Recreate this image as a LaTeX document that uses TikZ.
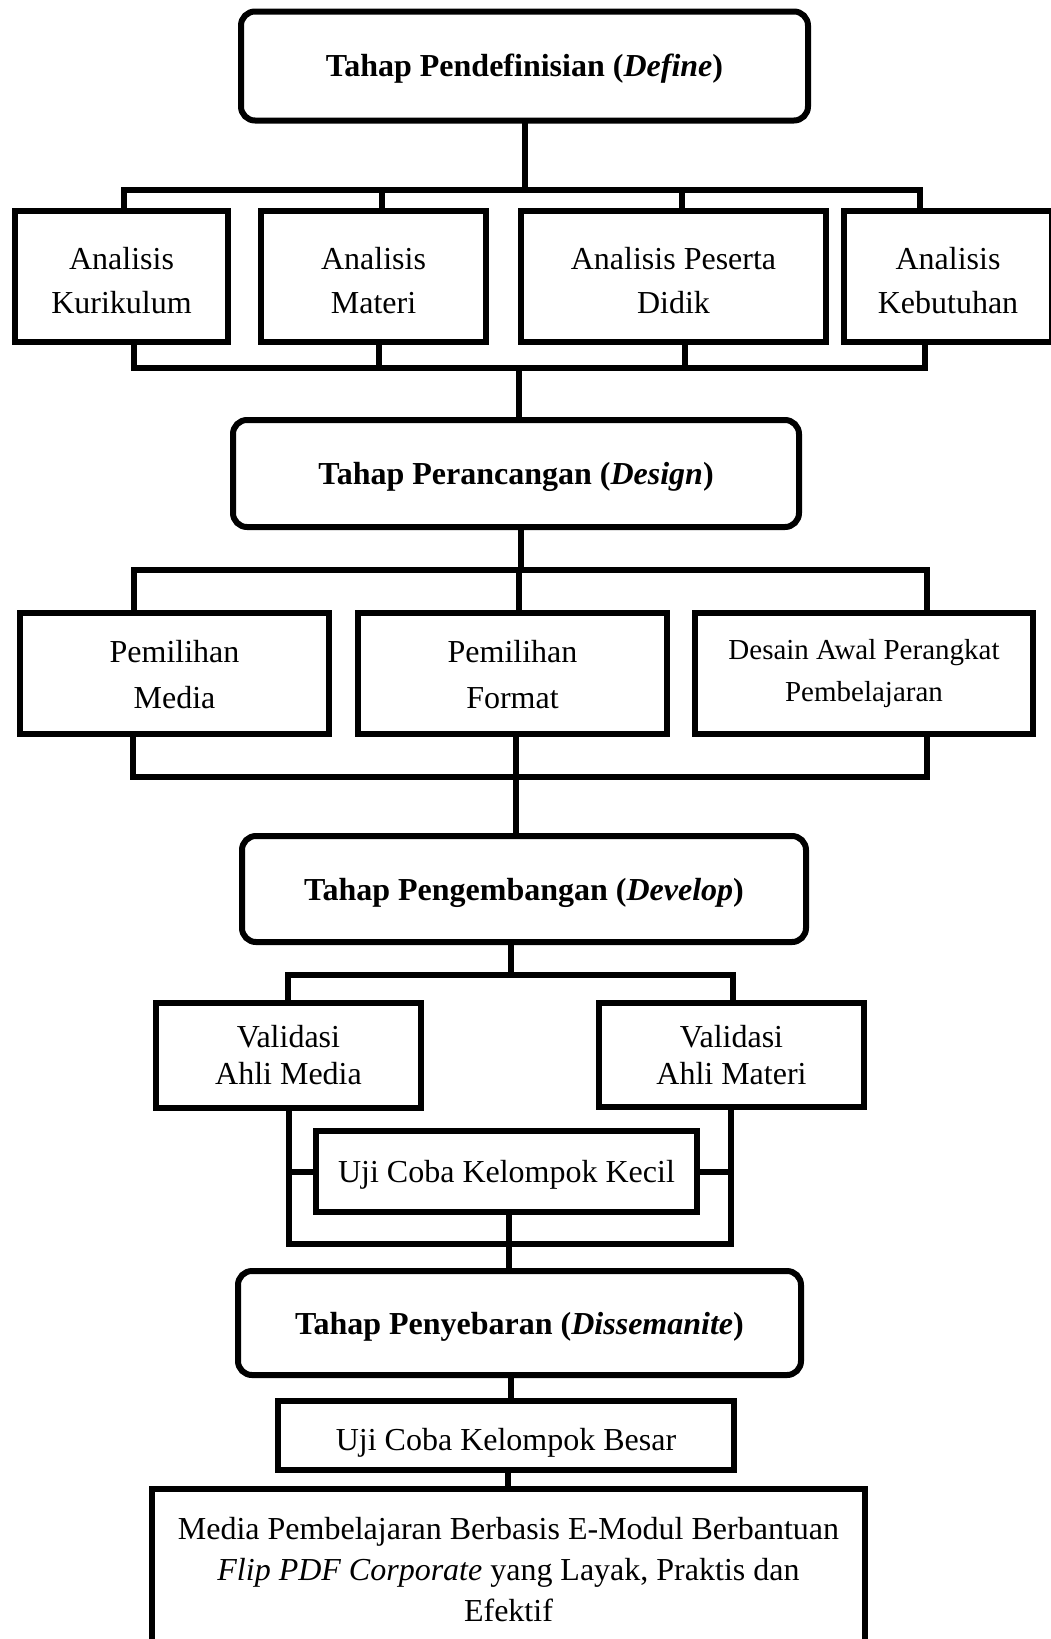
\documentclass[tikz,border=0pt]{standalone}
\usepackage{fontspec}
\setmainfont{Liberation Serif}
\newcommand\lowr[1]{\rule{0pt}{#1pt}}
\begin{document}
\begin{tikzpicture}[x=1pt,y=-1pt,
  every node/.style={inner sep=0pt,outer sep=0pt},
  box/.style={draw=black,line width=6pt,align=center,fill=white},
  stage/.style={box,rounded corners=14pt,font=\fontsize{32}{40}\selectfont\bfseries},
  conn/.style={draw=black,line width=6pt}
]
\useasboundingbox (0,0) rectangle (1051,1639);
\fill[white] (0,0) rectangle (1051,1639);

% ---------- Define ----------
\node[stage,minimum width=567,minimum height=109] (def) at (524.5,66) {\lowr{28}Tahap Pendefinisian (\textit{Define})};

\node[box,minimum width=213,minimum height=131,font=\fontsize{32}{44}\selectfont] (a1) at (121.5,276.5) {\lowr{30}Analisis\\Kurikulum};
\node[box,minimum width=225,minimum height=131,font=\fontsize{32}{44}\selectfont] (a2) at (373.5,276.5) {\lowr{30}Analisis\\Materi};
\node[box,minimum width=305,minimum height=131,font=\fontsize{32}{44}\selectfont] (a3) at (673.5,276.5) {\lowr{30}Analisis Peserta\\Didik};
\node[box,minimum width=208,minimum height=131,font=\fontsize{32}{44}\selectfont] (a4) at (948,276.5) {\lowr{30}Analisis\\Kebutuhan};

\coordinate (t1s) at (525,190);
\coordinate (t1a) at (124,190);
\coordinate (t1b) at (382,190);
\coordinate (t1c) at (682,190);
\coordinate (t1d) at (920,190);
\draw[conn] (t1s |- def.south) -- (t1s);
\draw[conn] (t1a |- a1.north) -- (t1a) -- (t1d) -- (t1d |- a4.north);
\draw[conn] (t1b) -- (t1b |- a2.north);
\draw[conn] (t1c) -- (t1c |- a3.north);

\coordinate (u1a) at (134,368);
\coordinate (u1b) at (379,368);
\coordinate (u1c) at (685,368);
\coordinate (u1d) at (925,368);
\coordinate (u1s) at (519,368);
\draw[conn] (u1a |- a1.south) -- (u1a) -- (u1d) -- (u1d |- a4.south);
\draw[conn] (u1b |- a2.south) -- (u1b);
\draw[conn] (u1c |- a3.south) -- (u1c);

% ---------- Design ----------
\node[stage,minimum width=566,minimum height=107] (des) at (516,473.5) {\lowr{30}Tahap Perancangan (\textit{Design})};
\draw[conn] (u1s) -- (u1s |- des.north);

\node[box,minimum width=309,minimum height=121,font=\fontsize{32}{46}\selectfont] (p1) at (174.5,673.5) {\lowr{25}Pemilihan\\Media};
\node[box,minimum width=309,minimum height=121,font=\fontsize{32}{46}\selectfont] (p2) at (512.5,673.5) {\lowr{25}Pemilihan\\Format};
\node[box,minimum width=338,minimum height=121,font=\fontsize{29}{42}\selectfont] (p3) at (864,673.5) {Desain Awal Perangkat\\Pembelajaran};

\coordinate (t2s) at (521,570);
\coordinate (t2a) at (134,570);
\coordinate (t2b) at (519,570);
\coordinate (t2c) at (927,570);
\draw[conn] (t2s |- des.south) -- (t2s);
\draw[conn] (t2a |- p1.north) -- (t2a) -- (t2c) -- (t2c |- p3.north);
\draw[conn] (t2b) -- (t2b |- p2.north);

\coordinate (u2a) at (133,777);
\coordinate (u2b) at (516,777);
\coordinate (u2c) at (927,777);
\draw[conn] (u2a |- p1.south) -- (u2a) -- (u2c) -- (u2c |- p3.south);
\draw[conn] (u2b |- p2.south) -- (u2b);

% ---------- Develop ----------
\node[stage,minimum width=564,minimum height=106] (dev) at (524,889) {\lowr{30}Tahap Pengembangan (\textit{Develop})};
\draw[conn] (u2b) -- (u2b |- dev.north);

\node[box,minimum width=265,minimum height=105,font=\fontsize{32}{37}\selectfont] (vm) at (288.5,1055.5) {Validasi\\Ahli Media};
\node[box,minimum width=265,minimum height=104,font=\fontsize{32}{37}\selectfont] (vt) at (731.5,1055) {Validasi\\Ahli Materi};

\coordinate (t3s) at (511,975);
\coordinate (t3a) at (288,975);
\coordinate (t3b) at (733,975);
\draw[conn] (t3s |- dev.south) -- (t3s);
\draw[conn] (t3a |- vm.north) -- (t3a) -- (t3b) -- (t3b |- vt.north);

\node[box,minimum width=381,minimum height=81,font=\fontsize{32}{40}\selectfont] (uk) at (506.5,1171.5) {\lowr{28}Uji Coba Kelompok Kecil};

\coordinate (u3a) at (289,1244);
\coordinate (u3b) at (731,1244);
\coordinate (u3s) at (509,1244);
\draw[conn] (u3a |- vm.south) -- (u3a) -- (u3b) -- (u3b |- vt.south);
\draw[conn] (uk.west) -- (uk.west -| u3a);
\draw[conn] (uk.east) -- (uk.east -| u3b);

% ---------- Disseminate ----------
\node[stage,minimum width=563,minimum height=104] (dis) at (519.5,1323) {\lowr{30}Tahap Penyebaran (\textit{Dissemanite})};
\draw[conn] (u3s |- uk.south) -- (u3s |- dis.north);

\node[box,minimum width=456,minimum height=69,font=\fontsize{32}{40}\selectfont] (ub) at (506,1435.5) {\lowr{36}Uji Coba Kelompok Besar};
\coordinate (s4) at (511,1390);
\draw[conn] (s4 |- dis.south) -- (s4 |- ub.north);

\node[box,minimum width=713,minimum height=156,font=\fontsize{32}{41}\selectfont] (fin) at (508.5,1567) {\lowr{27}Media Pembelajaran Berbasis E-Modul Berbantuan\\\textit{Flip PDF Corporate} yang Layak, Praktis dan\\Efektif};
\coordinate (s5) at (508,1480);
\draw[conn] (s5 |- ub.south) -- (s5 |- fin.north);

\end{tikzpicture}
\end{document}
